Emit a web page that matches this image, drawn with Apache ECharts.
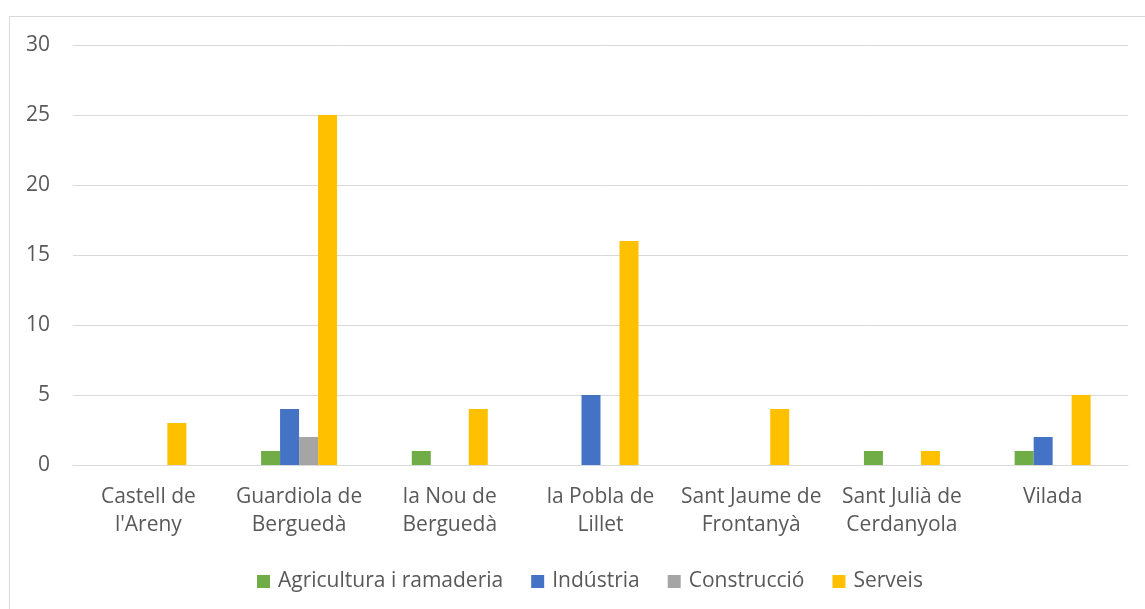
<!DOCTYPE html>
<html>
<head>
<meta charset="utf-8">
<script src="https://cdn.jsdelivr.net/npm/echarts@6/dist/echarts.min.js"></script>
<style>
  html, body { margin: 0; padding: 0; background: #fff; }
  #main { width: 1145px; height: 609px; }
</style>
</head>
<body>
<div id="main"></div>
<script>
// municipis
const categories = ['Castell de l\'Areny', 'Guardiola de Berguedà', 'la Nou de Berguedà', 'la Pobla de Lillet', 'Sant Jaume de Frontanyà', 'Sant Julià de Cerdanyola', 'Vilada']
const agricultura = [0, 1, 1, 0, 0, 1, 1]
const industria = [0, 4, 0, 5, 0, 0, 2]
const construccio = [0, 2, 0, 0, 0, 0, 0]
const serveis = [3, 25, 4, 16, 4, 1, 5]
const yTicks = [0, 5, 10, 15, 20, 25, 30]

const textColor = '#595959'
const font = 'Open Sans'

const chart = echarts.init(document.getElementById('main'), null, { renderer: 'canvas' })

function bar(name, data, color) {
  return {
    name: name,
    type: 'bar',
    data: data,
    barWidth: 19,
    barGap: '0%',
    itemStyle: { color: color },
    emphasis: { disabled: true }
  }
}

const option = {
  animation: false,
  backgroundColor: '#fff',
  graphic: [{
    type: 'rect',
    shape: { x: 9.5, y: 16.5, width: 1200, height: 700 },
    style: { fill: 'none', stroke: '#d9d9d9', lineWidth: 1 },
    silent: true
  }],
  grid: { left: 73, right: 17, top: 45, bottom: 144, containLabel: false },
  legend: {
    top: 566,
    left: 252,
    itemWidth: 13,
    itemHeight: 13,
    itemGap: 28,
    icon: 'rect',
    textStyle: { color: textColor, fontSize: 21, fontFamily: font, padding: [0, 0, 0, 3] },
    data: ['Agricultura i ramaderia', 'Indústria', 'Construcció', 'Serveis']
  },
  xAxis: {
    type: 'category',
    data: categories,
    axisLine: { lineStyle: { color: '#d9d9d9', width: 1 } },
    axisTick: { show: false },
    axisLabel: {
      color: textColor,
      fontSize: 21,
      fontFamily: font,
      lineHeight: 28,
      margin: 18,
      interval: 0,
      formatter: v => v.replace(' de ', ' de\n')
    }
  },
  yAxis: {
    type: 'value',
    min: yTicks[0],
    max: yTicks[yTicks.length - 1],
    interval: 5,
    axisLine: { show: false },
    axisTick: { show: false },
    splitLine: { lineStyle: { color: '#d9d9d9', width: 1 } },
    axisLabel: { color: textColor, fontSize: 21, fontFamily: font, margin: 23 }
  },
  series: [
    bar('Agricultura i ramaderia', agricultura, '#70ad47'),
    bar('Indústria', industria, '#4472c4'),
    bar('Construcció', construccio, '#a5a5a5'),
    bar('Serveis', serveis, '#ffc000')
  ]
}

chart.setOption(option)
</script>
</body>
</html>
